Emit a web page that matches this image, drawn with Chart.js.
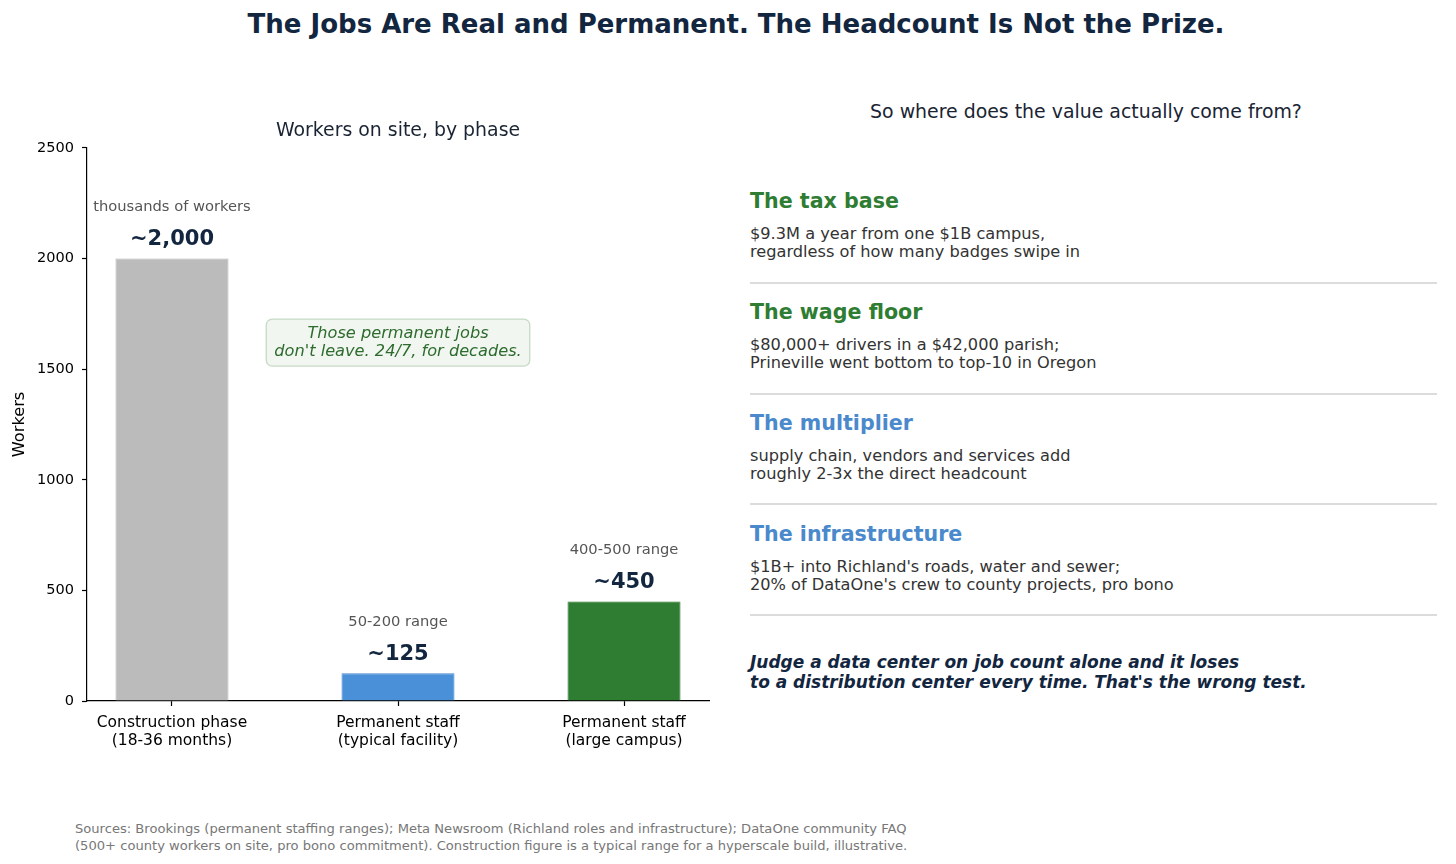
<!DOCTYPE html>
<html><head><meta charset="utf-8">
<script src="https://cdn.jsdelivr.net/npm/chart.js@4"></script>
<style>
body{margin:0;width:1456px;height:864px;background:#fff;position:relative;overflow:hidden;font-family:"DejaVu Sans",sans-serif}
.abs{position:absolute;white-space:nowrap}
#chartWrap{position:absolute;left:0;top:1px;width:730px;height:760px}
.head{font-weight:bold;font-size:20.6px;line-height:24px}
.body{font-size:16.2px;line-height:18px;color:#333}
.sep{position:absolute;left:750px;width:687px;height:1.5px;background:#dcdcdc}
</style></head><body>
<div class="abs" style="left:0;width:1472px;top:9px;text-align:center;font-weight:bold;font-size:26px;line-height:30px;color:#13263f">The Jobs Are Real and Permanent. The Headcount Is Not the Prize.</div>
<div id="chartWrap"><canvas id="c" width="730" height="760"></canvas></div>
<div class="abs" style="left:736px;width:700px;top:99px;text-align:center;font-size:18.9px;line-height:24px;color:#1a2433">So where does the value actually come from?</div>
<div id="panel"></div>
<div class="abs" style="left:750px;top:652px;font-weight:bold;font-style:italic;font-size:17px;line-height:20px;color:#13263f">Judge a data center on job count alone and it loses<br>to a distribution center every time. That's the wrong test.</div>
<div class="abs" style="left:75px;top:820px;font-size:13.1px;line-height:17px;color:#777">Sources: Brookings (permanent staffing ranges); Meta Newsroom (Richland roles and infrastructure); DataOne community FAQ<br>(500+ county workers on site, pro bono commitment). Construction figure is a typical range for a hyperscale build, illustrative.</div>
<script>
// ---- data ----
const categories = [["Construction phase","(18-36 months)"],["Permanent staff","(typical facility)"],["Permanent staff","(large campus)"]];
const workers = [2000, 125, 450];
const valueLabels = ["~2,000", "~125", "~450"];
const rangeLabels = ["thousands of workers", "50-200 range", "400-500 range"];
const yTicks = [0, 500, 1000, 1500, 2000, 2500];
const barColors = ["#bbbbbb", "#4a90d9", "#2e7d32"];
const barEdges = ["#b0b0b0", "#4286cf", "#2a732e"];
const noteLines = ["Those permanent jobs", "don't leave. 24/7, for decades."];
const notePos = [1, 1620];
const panelHeads = ["The tax base", "The wage floor", "The multiplier", "The infrastructure"];
const panelColors = ["#2e7d32", "#2e7d32", "#4a89cc", "#4a89cc"];
const panelBodies = [
  ["$9.3M a year from one $1B campus,", "regardless of how many badges swipe in"],
  ["$80,000+ drivers in a $42,000 parish;", "Prineville went bottom to top-10 in Oregon"],
  ["supply chain, vendors and services add", "roughly 2-3x the direct headcount"],
  ["$1B+ into Richland's roads, water and sewer;", "20% of DataOne's crew to county projects, pro bono"]
];

// ---- right panel ----
const panel = document.getElementById('panel');
const sepY = [282, 393, 503, 614];
panelHeads.forEach((h, i) => {
  const base = 111 * i;
  const hd = document.createElement('div');
  hd.className = 'abs head';
  hd.style.left = '750px'; hd.style.top = (200 + base - 11) + 'px'; hd.style.color = panelColors[i];
  hd.textContent = h; panel.appendChild(hd);
  const bd = document.createElement('div');
  bd.className = 'abs body';
  bd.style.left = '750px'; bd.style.top = (234 + base - 9) + 'px';
  bd.innerHTML = panelBodies[i].join('<br>'); panel.appendChild(bd);
  const s = document.createElement('div');
  s.className = 'sep'; s.style.top = sepY[i] + 'px'; panel.appendChild(s);
});

// ---- chart ----
const FONT = '"DejaVu Sans"';
const labelPlugin = {
  id: 'barLabels',
  afterDatasetsDraw(chart) {
    const {ctx, scales: {x, y}} = chart;
    ctx.save();
    ctx.textAlign = 'center'; ctx.textBaseline = 'middle';
    workers.forEach((v, i) => {
      const px = x.getPixelForValue(i), py = y.getPixelForValue(v);
      ctx.font = 'bold 21px ' + FONT; ctx.fillStyle = '#13263f';
      ctx.fillText(valueLabels[i], px, py - 19);
      ctx.font = '14.7px ' + FONT; ctx.fillStyle = '#555555';
      ctx.fillText(rangeLabels[i], px, py - 51);
    });
    const bx = x.getPixelForValue(notePos[0]), by = y.getPixelForValue(notePos[1]);
    ctx.font = 'italic 16.2px ' + FONT;
    const w = Math.max(...noteLines.map(l => ctx.measureText(l).width)) + 16, h = 47;
    ctx.beginPath();
    ctx.roundRect(bx - w / 2, by - h / 2, w, h, 6);
    ctx.fillStyle = '#f1f6f0'; ctx.fill();
    ctx.lineWidth = 1.3; ctx.strokeStyle = '#c6dac5'; ctx.stroke();
    ctx.fillStyle = '#2e6b2e';
    ctx.fillText(noteLines[0], bx, by - 9);
    ctx.fillText(noteLines[1], bx, by + 9);
    ctx.restore();
  }
};

new Chart(document.getElementById('c'), {
  type: 'bar',
  data: {
    datasets: [{
      data: workers.map((v, i) => ({x: i, y: v})),
      backgroundColor: barColors,
      borderColor: barEdges,
      borderWidth: 0.8,
      barPercentage: 0.5,
      categoryPercentage: 1
    }]
  },
  options: {
    responsive: false,
    animation: false,
    layout: {padding: {left: 0, right: 21, top: 0, bottom: 0}},
    plugins: {
      legend: {display: false},
      tooltip: {enabled: false},
      title: {
        display: true, fullSize: false, text: 'Workers on site, by phase', color: '#1a2433',
        font: {family: 'DejaVu Sans', size: 18.9, weight: 'normal'},
        padding: {top: 119, bottom: 5.3}
      }
    },
    scales: {
      x: {
        type: 'linear', min: -0.376, max: 2.376, offset: false,
        afterBuildTicks: s => { s.ticks = categories.map((c, i) => ({value: i})); },
        ticks: {callback: v => categories[v], color: '#000', font: {family: 'DejaVu Sans', size: 15.5, lineHeight: 1.16}, padding: 8, maxRotation: 0, autoSkip: false},
        grid: {display: true, offset: false, drawOnChartArea: false, drawTicks: true, tickLength: 5, tickColor: '#000', tickWidth: 1.2},
        border: {display: true, color: '#000', width: 1.2},
        afterFit: s => { s.height = 60; }
      },
      y: {
        min: 0, max: 2500,
        afterBuildTicks: s => { s.ticks = yTicks.map(v => ({value: v})); },
        ticks: {callback: v => String(v), color: '#000', font: {family: 'DejaVu Sans', size: 14.5}, padding: 8},
        grid: {display: true, drawOnChartArea: false, drawTicks: true, tickLength: 5, tickColor: '#000', tickWidth: 1.2},
        border: {display: true, color: '#000', width: 1.2},
        title: {display: true, text: 'Workers', color: '#000', font: {family: 'DejaVu Sans', size: 16.2}, padding: {top: 10, bottom: 0}},
        afterFit: s => { s.width = 87; }
      }
    }
  },
  plugins: [labelPlugin]
});
</script>
</body></html>
